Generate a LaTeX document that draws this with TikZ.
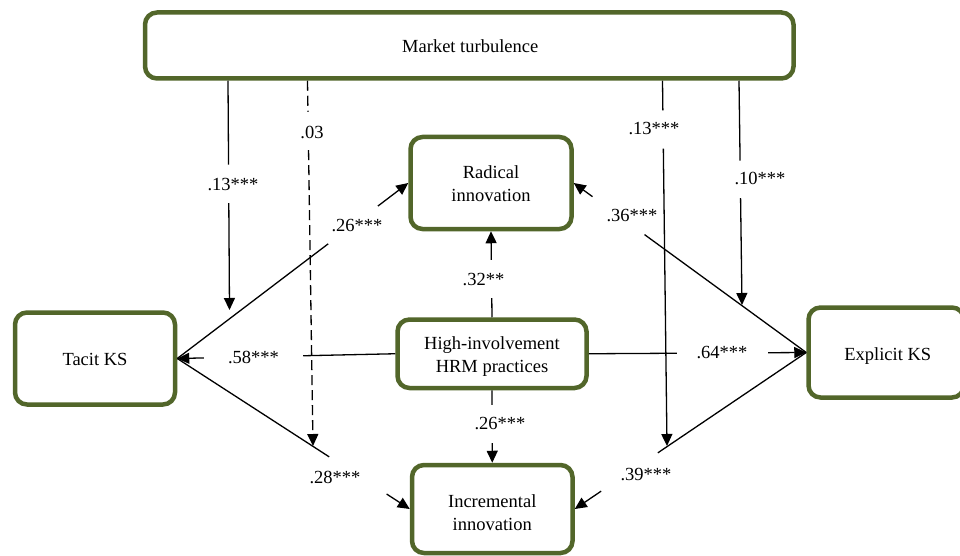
\documentclass[tikz,border=0pt]{standalone}
\usepackage{fontspec}
\setmainfont{Liberation Serif}
\usetikzlibrary{arrows.meta,calc}
\definecolor{boxgreen}{RGB}{82,102,42}
\begin{document}
\begin{tikzpicture}[x=1pt,y=-1pt,
  box/.style={draw=boxgreen, line width=4.5pt, rounded corners=12pt, fill=white, inner sep=0pt},
  boxtext/.style={align=center, inner sep=0pt, font=\fontsize{18.5}{23}\selectfont},
  conn/.style={line width=1.3pt, draw=black},
  arr/.style={conn, -{Triangle[length=12pt,width=11pt]}},
  dsh/.style={dash pattern=on 10pt off 5pt},
  gapnode/.style={circle, inner sep=0pt, minimum size=#1},
  lab/.style={font=\fontsize{18.5}{23}\selectfont, inner sep=0pt}]
\useasboundingbox (0,0) rectangle (960,556);

% boxes
\node[box, minimum width=648.5pt, minimum height=66pt] (market) at (469.25,45.5) {};
\node[box, minimum width=161pt, minimum height=92pt] (radical) at (491,183) {};
\node[box, minimum width=189pt, minimum height=68.5pt] (hrm) at (492,353.75) {};
\node[box, minimum width=160pt, minimum height=92pt] (tacit) at (95,358.5) {};
\node[box, minimum width=155.5pt, minimum height=90pt] (explicit) at (886.25,352.5) {};
\node[box, minimum width=160.5pt, minimum height=88pt] (incr) at (492.25,509) {};

% box texts
\node[boxtext] (tmarket) at ($(market)+(1,1)$) {Market turbulence};
\node[boxtext] (tradical) at ($(radical)+(0,0.5)$) {Radical\\innovation};
\node[boxtext] (thrm) at ($(hrm)+(0,2.5)$) {High-involvement\\HRM practices};
\node[boxtext] (ttacit) at ($(tacit)+(0,1)$) {Tacit KS};
\node[boxtext] (texplicit) at ($(explicit)+(1.5,4)$) {Explicit KS};
\node[boxtext] (tincr) at ($(incr)+(0,4)$) {Incremental\\innovation};

% moderation line end points
\coordinate (m1s) at (228,80.75);   \coordinate (m1e) at (229.5,310);
\coordinate (m2s) at (307.5,80.75); \coordinate (m2e) at (313,446);
\coordinate (m3s) at (662.5,80.75); \coordinate (m3e) at (667,446);
\coordinate (m4s) at (739,80.75);   \coordinate (m4e) at (742,305);

% gaps
\node[gapnode=38pt] (g1) at ($(m1s)!0.45!(m1e)$) {};
\node[gapnode=38pt] (g2) at ($(m2s)!0.1376!(m2e)$) {};
\node[gapnode=38pt] (g3) at ($(m3s)!0.1335!(m3e)$) {};
\node[gapnode=37pt] (g4) at ($(m4s)!0.44!(m4e)$) {};
\node[gapnode=62pt] (g26) at ($(tacit.east)!0.761!(radical.west)$) {};
\node[gapnode=68pt] (g28) at ($(tacit.east)!0.777!(incr.west)$) {};
\node[gapnode=99pt] (g58) at ($(hrm.west)!0.65!(tacit.east)$) {};
\node[gapnode=91pt] (g64) at ($(hrm.east)!0.615!(explicit.west)$) {};
\node[gapnode=64pt] (g36) at ($(explicit.west)!0.8075!(radical.east)$) {};
\node[gapnode=68pt] (g39) at ($(explicit.west)!0.7635!(incr.east)$) {};
\node[gapnode=38pt] (g32) at ($(hrm.north)!0.445!(radical.south)$) {};
\node[gapnode=38pt] (g26b) at ($(hrm.south)!0.466!(incr.north)$) {};

% connectors
\draw[conn] (m1s) -- (g1);  \draw[arr] (g1) -- (m1e);
\draw[conn,dsh] (m2s) -- (g2);  \draw[arr,dsh] (g2) -- (m2e);
\draw[conn] (m3s) -- (g3);  \draw[arr] (g3) -- (m3e);
\draw[conn] (m4s) -- (g4);  \draw[arr] (g4) -- (m4e);

\draw[conn] (tacit.east) -- (g26); \draw[arr] (g26) -- (radical.west);
\draw[conn] (tacit.east) -- (g28); \draw[arr] (g28) -- (incr.west);
\draw[conn] (hrm.west) -- (g58);   \draw[arr] (g58) -- (tacit.east);
\draw[conn] (hrm.east) -- (g64);   \draw[arr] (g64) -- (explicit.west);
\draw[conn] (explicit.west) -- (g36); \draw[arr] (g36) -- (radical.east);
\draw[conn] (explicit.west) -- (g39); \draw[arr] (g39) -- (incr.east);
\draw[conn] (hrm.north) -- (g32);  \draw[arr] (g32) -- (radical.south);
\draw[conn] (hrm.south) -- (g26b); \draw[arr] (g26b) -- (incr.north);

% labels
\node[lab] (l1) at (233,185) {.13***};
\node[lab] (l2) at (312,132) {.03};
\node[lab] (l3) at (654,129) {.13***};
\node[lab] (l4) at (760,178) {.10***};
\node[lab] (l26) at (357,226) {.26***};
\node[lab] (l28) at (335,477) {.28***};
\node[lab] (l58) at (253.5,357) {.58***};
\node[lab] (l64) at (722,353) {.64***};
\node[lab] (l36) at (632,216) {.36***};
\node[lab] (l39) at (646,475) {.39***};
\node[lab] (l32) at (483.5,280) {.32**};
\node[lab] (l26b) at (500,424) {.26***};
\end{tikzpicture}
\end{document}
